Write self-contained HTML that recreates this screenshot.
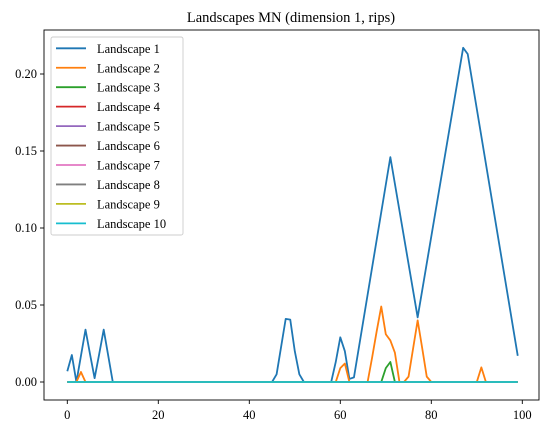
<!DOCTYPE html>
<html><head><meta charset="utf-8">
<style>
body{margin:0;background:#fff;}
svg{display:block;font-family:"Liberation Serif","DejaVu Serif",serif;}
</style></head>
<body>
<svg id="chart" width="550" height="432" viewBox="0 0 550 432" xmlns="http://www.w3.org/2000/svg">
<rect width="550" height="432" fill="#fff"/>
<text x="291" y="22" text-anchor="middle" font-size="14.5">Landscapes MN (dimension 1, rips)</text>
<g id="plot"></g>
<g id="axes"></g>
<g id="legend"></g>
</svg>
<script>
const names = ["Landscape 1","Landscape 2","Landscape 3","Landscape 4","Landscape 5","Landscape 6","Landscape 7","Landscape 8","Landscape 9","Landscape 10"];
const colors = ["#1f77b4","#ff7f0e","#2ca02c","#d62728","#9467bd","#8c564b","#e377c2","#7f7f7f","#bcbd22","#17becf"];
const xTicks = [0,20,40,60,80,100];
const yTicks = [0,0.05,0.10,0.15,0.20];
const yTickLabels = ["0.00","0.05","0.10","0.15","0.20"];
const l1Points = [[0,0.007],[1,0.0175],[2,0],[3,0.017],[4,0.034],[5,0.018],[6,0.0025],[7,0.018],[8,0.034],[9,0.017],[10,0],[45,0],[46,0.005],[48,0.041],[49,0.0405],[50,0.02],[51,0.005],[52,0],[58,0],[59,0.013],[60,0.029],[61,0.02],[62,0.002],[63,0.003],[71,0.146],[77,0.042],[87,0.217],[88,0.213],[99,0.017]];
const l2Points = [[0,0],[2,0],[3,0.0065],[4,0],[59,0],[60,0.009],[61,0.012],[62,0],[66,0],[67,0.016],[68,0.033],[69,0.049],[70,0.031],[71,0.027],[72,0.019],[73,0],[74,0],[75,0.0035],[77,0.040],[78,0.022],[79,0.0035],[80,0],[90,0],[91,0.0095],[92,0],[99,0]];
const l3Points = [[0,0],[69,0],[70,0.009],[71,0.013],[72,0],[99,0]];
const zeroPoints = [[0,0],[99,0]];
const seriesPoints = [l1Points,l2Points,l3Points,zeroPoints,zeroPoints,zeroPoints,zeroPoints,zeroPoints,zeroPoints,zeroPoints];

const L=44,R=539,T=30,B=400;
function xs(v){return 67.3+(v-0)*4.55;}
function ys(v){return 382-v*1540;}
const NS="http://www.w3.org/2000/svg";
function mk(tag,attrs,parent){const e=document.createElementNS(NS,tag);for(const k in attrs)e.setAttribute(k,attrs[k]);parent.appendChild(e);return e;}
const plot=document.getElementById('plot'),axes=document.getElementById('axes'),leg=document.getElementById('legend');
for(let i=0;i<seriesPoints.length;i++){
  const d=seriesPoints[i].map((p,j)=>(j?'L':'M')+xs(p[0]).toFixed(2)+','+ys(p[1]).toFixed(2)).join(' ');
  const p=mk('path',{d:d,fill:'none',stroke:colors[i],'stroke-width':1.8,'stroke-linejoin':'round'},plot);
  
  
}
const frame=mk('rect',{x:L,y:T,width:R-L,height:B-T,fill:'none',stroke:'#000','stroke-width':0.9},axes);


xTicks.forEach(v=>{
  const x=xs(v);
  mk('line',{x1:x,x2:x,y1:B,y2:B+4,stroke:'#000','stroke-width':0.9},axes);
  const t=mk('text',{x:x,y:B+19,'text-anchor':'middle','font-size':12.5},axes);
  t.textContent=v;
  
  
});
yTicks.forEach((v,i)=>{
  const y=ys(v);
  mk('line',{x1:L-4,x2:L,y1:y,y2:y,stroke:'#000','stroke-width':0.9},axes);
  const t=mk('text',{x:L-7,y:y+4,'text-anchor':'end','font-size':12.5},axes);
  t.textContent=yTickLabels[i];
  
  
});
const box=mk('rect',{x:51,y:37,width:132,height:198,rx:2,fill:'#fff','fill-opacity':0.8,stroke:'#ccc','stroke-width':0.9},leg);


names.forEach((n,i)=>{
  const y=48.3+i*19.45;
  const g=mk('g',{},leg);
  
  
  mk('line',{x1:56,x2:86,y1:y,y2:y,stroke:colors[i],'stroke-width':1.8},g);
  const t=mk('text',{x:97,y:y+4.5,'font-size':12.5},g);
  t.textContent=n;
});
</script>
</body></html>
